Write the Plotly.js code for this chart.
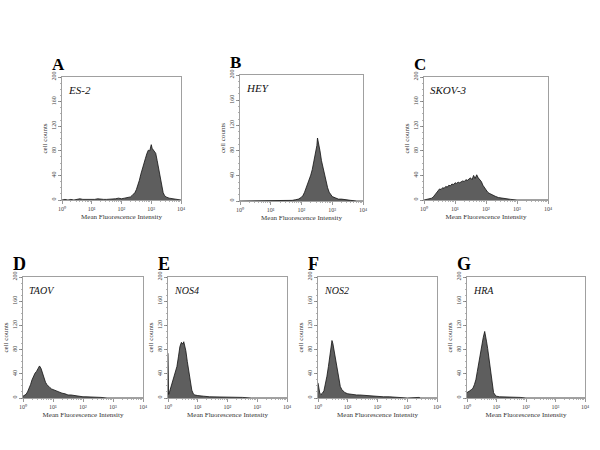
<!DOCTYPE html>
<html><head><meta charset="utf-8">
<script src="https://cdn.plot.ly/plotly-3.0.1.min.js"></script>
<style>body{margin:0;background:#fff}</style></head>
<body><div id="chart" style="width:600px;height:450px"></div>
<script>
const panelLetters = ['A','B','C','D','E','F','G'];
const sampleNames = ['ES-2','HEY','SKOV-3','TAOV','NOS4','NOS2','HRA'];
const tickValsX = [1,10,100,1000,10000];
const tickTextX = ['10\u2070','10\u00b9','10\u00b2','10\u00b3','10\u2074'];
const tickValsY = [0,40,80,120,160,200];

// log10(fluorescence) positions and cell counts
const logA = [0,0.1,0.2,0.3,0.4,0.5,0.6,0.7,0.8,0.9,1.0,1.1,1.2,1.3,1.4,1.5,1.6,1.7,1.8,1.9,2.0,2.1,2.2,2.3,2.35,2.4,2.45,2.5,2.55,2.6,2.65,2.7,2.75,2.8,2.85,2.9,2.95,3.0,3.03,3.06,3.1,3.15,3.2,3.25,3.3,3.35,3.4,3.45,3.5,3.6,3.7,3.8,3.9,4.0];
const countA = [0,1,0,1,0,1,2,1,1,0,1,1,2,1,1,1,1,2,2,3,2,3,4,5,7,9,12,17,24,32,42,52,60,67,75,81,80,90,84,82,80,76,64,50,34,22,12,7,5,3,2,2,1,0];

const logB = [0,0.1,0.2,0.3,0.4,0.5,0.6,0.7,0.8,0.9,1.0,1.1,1.2,1.3,1.4,1.5,1.6,1.7,1.8,1.9,2.0,2.05,2.1,2.15,2.2,2.25,2.3,2.35,2.4,2.45,2.5,2.52,2.55,2.6,2.65,2.7,2.75,2.8,2.85,2.9,2.95,3.0,3.1,3.2,3.3,3.4,3.5,3.6,3.8,4.0];
const countB = [0,0,1,0,0,1,0,1,0,1,1,0,1,1,1,1,1,1,2,3,6,9,14,20,26,33,41,50,62,74,88,100,94,80,64,52,40,30,21,14,10,7,5,3,3,2,1,1,0,0];

const logC = [0,0.1,0.15,0.2,0.25,0.3,0.35,0.4,0.45,0.5,0.55,0.6,0.65,0.7,0.75,0.8,0.85,0.9,0.95,1.0,1.05,1.1,1.15,1.2,1.25,1.3,1.35,1.4,1.45,1.5,1.55,1.6,1.65,1.7,1.75,1.8,1.85,1.9,1.95,2.0,2.05,2.1,2.2,2.3,2.4,2.5,2.6,2.7,2.8,3.0,3.2,3.5,3.55,3.8,4.0];
const countC = [0,1,1,2,3,5,8,12,15,18,17,20,19,22,21,24,23,26,25,28,27,29,28,30,31,30,33,32,34,36,33,40,35,41,36,33,30,24,20,16,13,11,8,6,4,3,2,1,1,0,0,1,0,0,0];

const logD = [0,0.05,0.1,0.15,0.2,0.25,0.3,0.35,0.4,0.45,0.5,0.55,0.6,0.65,0.7,0.75,0.8,0.85,0.9,0.95,1.0,1.1,1.2,1.3,1.4,1.5,1.6,1.7,1.8,1.9,2.0,2.1,2.2,2.4,2.6,2.8,3.0,3.5,3.55,4.0];
const countD = [3,4,6,10,15,22,30,36,41,44,48,53,49,40,32,26,22,19,17,15,14,11,9,8,7,5,5,4,3,3,2,2,2,1,1,0,0,1,0,0];

const logE = [0,0.02,0.05,0.1,0.15,0.2,0.25,0.3,0.35,0.4,0.45,0.5,0.53,0.56,0.6,0.65,0.7,0.75,0.8,0.85,0.9,1.0,1.1,1.2,1.4,1.6,1.8,2.0,2.2,2.5,2.8,3.2,4.0];
const countE = [74,6,10,18,26,34,42,52,68,85,92,89,93,88,78,60,42,24,13,7,5,4,3,3,2,2,2,1,1,1,0,0,0];

const logF = [0,0.03,0.06,0.1,0.15,0.2,0.25,0.3,0.35,0.4,0.45,0.47,0.5,0.55,0.6,0.65,0.7,0.75,0.8,0.85,0.9,1.0,1.1,1.2,1.3,1.4,1.6,1.8,2.0,2.2,2.4,2.6,2.8,3.0,3.4,3.45,4.0];
const countF = [25,12,8,6,8,12,22,36,52,72,90,95,90,76,58,42,28,19,14,11,9,7,6,6,5,5,4,4,3,2,2,1,1,0,1,0,0];

const logG = [0,0.05,0.1,0.15,0.2,0.25,0.3,0.35,0.4,0.45,0.5,0.55,0.6,0.63,0.66,0.7,0.75,0.8,0.85,0.9,0.95,1.0,1.1,1.2,1.3,1.5,1.6,1.7,1.8,2.0,2.5,3.0,4.0];
const countG = [9,10,12,14,16,22,30,44,60,72,85,100,110,104,94,82,64,40,20,9,5,3,2,2,1,1,2,2,1,0,0,0,0];

const logs = [logA,logB,logC,logD,logE,logF,logG];
const counts = [countA,countB,countC,countD,countE,countF,countG];

// layout geometry (pixels): [left, right, top, bottom]
const boxes = [
  [62,181,77,200],[240,363,75,201],[424,548,77,200],
  [23,143,277,398],[168,287,277,398],[318,437,277,398],[467,585,277,398]
];
const W = 600, H = 450;
const serif = "'Liberation Serif', 'Times New Roman', Times, serif";

const data = [];
const layout = {
  width: W, height: H, margin:{l:0,r:0,t:0,b:0},
  paper_bgcolor:'#fff', plot_bgcolor:'#fff', showlegend:false,
  font:{family:serif, color:'#222'}, annotations:[]
};
const minorX = [];
for (let d=0; d<4; d++) for (let k=2; k<10; k++) minorX.push(k*Math.pow(10,d));

for (let i=0;i<7;i++){
  const sfx = i===0 ? '' : String(i+1);
  const b = boxes[i];
  data.push({
    x: logs[i].map(v=>Math.pow(10,v)), y: counts[i],
    xaxis:'x'+sfx, yaxis:'y'+sfx, type:'scatter', mode:'lines',
    fill:'tozeroy', fillcolor:'#5e5e5e', line:{color:'#111', width:0.8},
    hoverinfo:'skip'
  });
  layout['xaxis'+sfx] = {
    type:'log', range:[0,4], domain:[b[0]/W, b[1]/W], anchor:'y'+sfx,
    tickmode:'array', tickvals:tickValsX, ticktext:tickTextX,
    ticks:'outside', ticklen:3, tickwidth:0.6, tickcolor:'#555',
    minor:{tickmode:'array', tickvals:minorX, ticks:'outside', ticklen:1.5, tickwidth:0.5, tickcolor:'#666'},
    tickfont:{size:6, family:serif, color:'#444'},
    showline:true, mirror:true, linecolor:'#888', linewidth:0.8,
    showgrid:false, zeroline:false, fixedrange:true,
    title:{text:'Mean Fluorescence Intensity', font:{size:7, family:serif, color:'#333'}, standoff:2}
  };
  layout['yaxis'+sfx] = {
    range:[0,200], domain:[1-b[3]/H, 1-b[2]/H], anchor:'x'+sfx,
    tickmode:'array', tickvals:tickValsY, ticktext:tickValsY.map(String), tickangle:-90,
    ticks:'outside', ticklen:3, tickwidth:0.6, tickcolor:'#555',
    minor:{dtick:10, ticks:'outside', ticklen:1.5, tickwidth:0.5, tickcolor:'#666'},
    tickfont:{size:6, family:serif, color:'#444'},
    showline:true, mirror:true, linecolor:'#888', linewidth:0.8,
    showgrid:false, zeroline:false, fixedrange:true,
    title:{text:'cell counts', font:{size:7, family:serif, color:'#333'}, standoff:2}
  };
  layout.annotations.push({
    text:'<b>'+panelLetters[i]+'</b>', xref:'paper', yref:'paper',
    x:(b[0]-12)/W, y:1-(b[2]-13)/H, xanchor:'left', yanchor:'middle', showarrow:false,
    font:{size: i<3 ? 17 : 18, family:serif, color:'#000'}
  });
  layout.annotations.push({
    text:'<i>'+sampleNames[i]+'</i>', xref:'paper', yref:'paper',
    x:(b[0]+4)/W, y:1-(b[2]+13)/H, xanchor:'left', yanchor:'middle', showarrow:false,
    font:{size: i<3 ? 11 : 10, family:serif, color:'#111'}
  });
}
Plotly.newPlot('chart', data, layout, {staticPlot:true, displayModeBar:false});
</script></body></html>
